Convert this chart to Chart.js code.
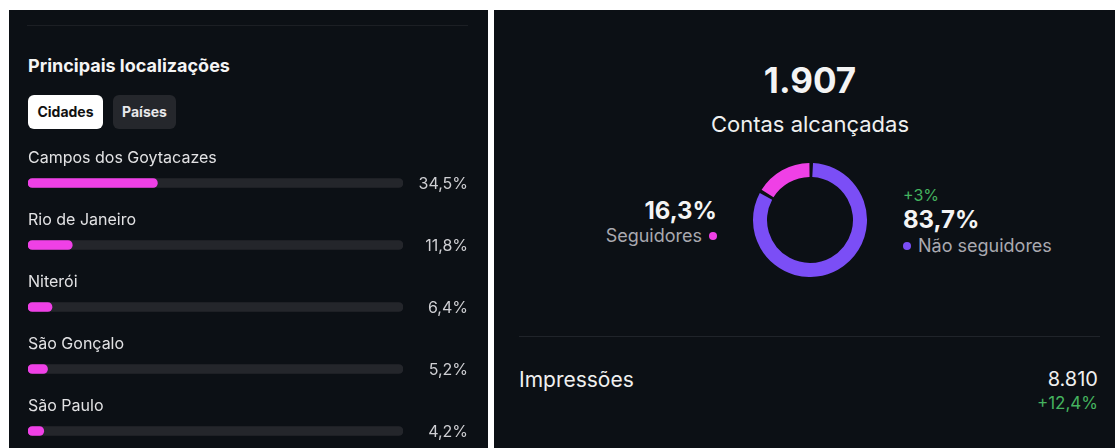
<!DOCTYPE html>
<html lang="pt-BR">
<head>
<meta charset="utf-8">
<script src="https://cdn.jsdelivr.net/npm/chart.js@4.4.1/dist/chart.umd.min.js"></script>
<style>
  html, body { margin: 0; padding: 0; }
  body { width: 1115px; height: 448px; overflow: hidden; background: #ffffff; position: relative;
         font-family: Inter, "Noto Sans", Roboto, sans-serif; }
  .panel { position: absolute; background: #0c1015; }
  .t { position: absolute; white-space: nowrap; }
  .sep { position: absolute; height: 1px; background: #20242a; }
  .btn { position: absolute; border-radius: 6px; font-weight: 700; font-size: 14px; text-align: center;
         line-height: 34px; height: 34px; }
  .dot { position: absolute; width: 8px; height: 8px; border-radius: 50%; }
</style>
</head>
<body>
<div class="panel" style="left:9px; top:10px; width:479px; height:460px;"></div>
<div class="panel" style="left:494px; top:10px; width:621px; height:460px;"></div>

<div class="sep" style="left:27px; top:25px; width:441px; background:#1c1f24;"></div>
<div class="t" style="left:28px; top:55px; line-height:22px; font-size:18px; font-weight:700; color:#f4f4f4;">Principais localizações</div>
<div class="btn" style="left:28px; top:95px; width:75px; background:#ffffff; color:#111111;">Cidades</div>
<div class="btn" style="left:113px; top:95px; width:63px; background:#25272c; color:#e8e8ea;">Países</div>

<canvas id="bars" width="479" height="330" style="position:absolute; left:9px; top:140px;"></canvas>

<div id="reached" class="t" style="left:660px; width:300px; text-align:center; top:60px; line-height:40px; font-size:35px; font-weight:700; color:#f4f4f4;"></div>
<div class="t" style="left:660px; width:300px; text-align:center; top:111px; line-height:27px; font-size:22px; color:#f0f0f0;">Contas alcançadas</div>

<canvas id="donut" width="114" height="114" style="position:absolute; left:753px; top:163px;"></canvas>

<div id="folPct" class="t" style="right:398px; top:197px; line-height:28px; font-size:24px; font-weight:700; color:#f4f4f4;"></div>
<div id="folLbl" class="t" style="right:413px; top:225px; line-height:22px; font-size:18px; color:#a9a9b0;"></div>
<div id="folDot" class="dot" style="left:709px; top:232px;"></div>

<div id="nonDelta" class="t" style="left:903px; top:185px; line-height:20px; font-size:16px; color:#45b35f;"></div>
<div id="nonPct" class="t" style="left:903px; top:206px; line-height:28px; font-size:24px; font-weight:700; color:#f4f4f4;"></div>
<div id="nonDot" class="dot" style="left:903px; top:242px;"></div>
<div id="nonLbl" class="t" style="left:918px; top:235px; line-height:22px; font-size:18px; color:#a9a9b0;"></div>

<div class="sep" style="left:519px; top:336px; width:581px; background:#20242a;"></div>
<div class="t" style="left:519px; top:367px; line-height:26px; font-size:21px; color:#f0f0f0;">Impressões</div>
<div id="impr" class="t" style="right:17px; top:366px; line-height:26px; font-size:20px; color:#f0f0f0;"></div>
<div id="imprDelta" class="t" style="right:17px; top:392px; line-height:22px; font-size:17px; color:#45b35f;"></div>

<script>
// ---- data ----
const cities = ["Campos dos Goytacazes", "Rio de Janeiro", "Niterói", "São Gonçalo", "São Paulo"];
const cityShares = [34.5, 11.8, 6.4, 5.2, 4.2];
const shareMax = 100;

const audienceLabels = ["Não seguidores", "Seguidores"];
const audienceShares = [83.7, 16.3];
const audienceDelta = ["+3%", null];

const accountsReached = [1907];
const impressions = [8810];
const impressionsDelta = ["+12,4%"];

// ---- colours ----
const PINK = "#ef40e6";
const PURPLE = "#7b4ef6";
const TRACK = "#24262b";

const fmtPct = v => v.toFixed(1).replace(".", ",") + "%";
const fmtInt = n => String(n).replace(/\B(?=(\d{3})+(?!\d))/g, ".");

// ---- DOM texts from data ----
document.getElementById("reached").textContent = fmtInt(accountsReached[0]);
document.getElementById("folPct").textContent = fmtPct(audienceShares[1]);
document.getElementById("folLbl").textContent = audienceLabels[1];
document.getElementById("folDot").style.background = PINK;
document.getElementById("nonDelta").textContent = audienceDelta[0];
document.getElementById("nonPct").textContent = fmtPct(audienceShares[0]);
document.getElementById("nonLbl").textContent = audienceLabels[0];
document.getElementById("nonDot").style.background = PURPLE;
document.getElementById("impr").textContent = fmtInt(impressions[0]);
document.getElementById("imprDelta").textContent = impressionsDelta[0];

// ---- bar chart ----
const barLabels = {
  id: "barLabels",
  afterDatasetsDraw(chart) {
    const ctx = chart.ctx;
    const meta = chart.getDatasetMeta(0);
    const area = chart.chartArea;
    ctx.save();
    ctx.textBaseline = "middle";
    meta.data.forEach((bar, i) => {
      ctx.font = "16px Inter, 'Noto Sans', sans-serif";
      ctx.fillStyle = "#e2e2e4";
      ctx.textAlign = "left";
      ctx.fillText(cities[i], area.left, bar.y - 25);
      ctx.fillStyle = "#cfcfd3";
      ctx.textAlign = "right";
      ctx.fillText(fmtPct(cityShares[i]), area.right + 65, bar.y + 1);
    });
    ctx.restore();
  }
};

new Chart(document.getElementById("bars"), {
  type: "bar",
  data: {
    labels: cities,
    datasets: [
      { data: cityShares, backgroundColor: PINK, borderRadius: 5, borderSkipped: false, barThickness: 9, grouped: false },
      { data: cities.map(() => shareMax), backgroundColor: TRACK, borderRadius: 5, borderSkipped: false, barThickness: 9, grouped: false }
    ]
  },
  options: {
    indexAxis: "y",
    responsive: false,
    devicePixelRatio: 1,
    animation: false,
    layout: { padding: { left: 19, right: 85, top: 12, bottom: 8 } },
    scales: {
      x: { min: 0, max: shareMax, display: false },
      y: { display: false }
    },
    plugins: { legend: { display: false }, tooltip: { enabled: false } }
  },
  plugins: [barLabels]
});

// ---- doughnut ----
new Chart(document.getElementById("donut"), {
  type: "doughnut",
  data: {
    labels: audienceLabels,
    datasets: [{ data: audienceShares, backgroundColor: [PURPLE, PINK], borderWidth: 0, spacing: 2 }]
  },
  options: {
    responsive: false,
    devicePixelRatio: 1,
    animation: false,
    cutout: "75%",
    plugins: { legend: { display: false }, tooltip: { enabled: false } }
  }
});
</script>
</body>
</html>
